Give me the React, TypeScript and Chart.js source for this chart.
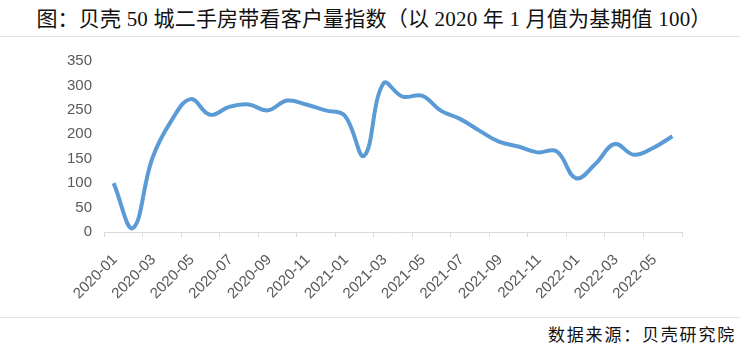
import React, { useEffect, useRef } from "react";
import { Chart, registerables } from "chart.js";

Chart.register(...registerables);

const months: string[] = [
  "2020-01", "2020-02", "2020-03", "2020-04", "2020-05", "2020-06",
  "2020-07", "2020-08", "2020-09", "2020-10", "2020-11", "2020-12",
  "2021-01", "2021-02", "2021-03", "2021-04", "2021-05", "2021-06",
  "2021-07", "2021-08", "2021-09", "2021-10", "2021-11", "2021-12",
  "2022-01", "2022-02", "2022-03", "2022-04", "2022-05", "2022-06",
];

const indexValues: number[] = [
  100, 8, 150, 228, 272, 240, 256, 261, 249, 269, 261, 249,
  238, 156, 304, 277, 279, 248, 231, 207, 185, 175, 163, 165,
  110, 139, 180, 158, 172, 196,
];

const yTicks: number[] = [0, 50, 100, 150, 200, 250, 300, 350];

const titleText = "图：贝壳 50 城二手房带看客户量指数（以 2020 年 1 月值为基期值 100）";
const sourceText = "数据来源：贝壳研究院";

export default function App() {
  const canvasRef = useRef<HTMLCanvasElement | null>(null);

  useEffect(() => {
    document.body.style.margin = "0";
    const canvas = canvasRef.current;
    if (!canvas) return;
    const points = indexValues.map((v, i) => ({ x: i + 0.5, y: v }));
    const chart = new Chart(canvas, {
      type: "line",
      data: {
        datasets: [
          {
            data: points,
            borderColor: "#5B9BD5",
            backgroundColor: "#5B9BD5",
            borderWidth: 4,
            pointRadius: 0,
            tension: 0.4,
            fill: false,
          },
        ],
      },
      options: {
        animation: false,
        responsive: false,
        maintainAspectRatio: false,
        layout: { padding: { top: 15, right: 58, left: 0, bottom: 0 } },
        plugins: {
          legend: { display: false },
          tooltip: { enabled: false },
          title: { display: false },
        },
        scales: {
          x: {
            type: "linear",
            min: 0,
            max: months.length,
            afterFit: (scale: any) => {
              scale.height = 83;
            },
            afterBuildTicks: (scale: any) => {
              const t = [];
              for (let v = 0; v <= months.length; v += 2) t.push({ value: v });
              scale.ticks = t;
            },
            ticks: {
              autoSkip: false,
              maxRotation: 45,
              minRotation: 45,
              color: "#595959",
              font: { family: "'Liberation Sans', Arial, sans-serif", size: 15 },
              padding: 14,
              labelOffset: 11,
              callback: (value: any) => {
                const v = Number(value);
                return v < months.length ? months[v] : "";
              },
            },
            grid: {
              display: true,
              drawOnChartArea: false,
              drawTicks: true,
              tickLength: 5,
              color: "#d9d9d9",
            },
            border: { display: true, color: "#d9d9d9", width: 1 },
          },
          y: {
            min: 0,
            max: 350,
            afterFit: (scale: any) => {
              scale.width = 104;
            },
            afterBuildTicks: (scale: any) => {
              scale.ticks = yTicks.map((v) => ({ value: v }));
            },
            ticks: {
              color: "#595959",
              font: { family: "'Liberation Sans', Arial, sans-serif", size: 15 },
              padding: 12,
            },
            grid: { display: false, drawTicks: false },
            border: { display: false },
          },
        },
      },
    });
    return () => chart.destroy();
  }, []);

  return (
    <div style={{ position: "relative", width: 740, height: 358, background: "#fff", overflow: "hidden" }}>
      <div
        style={{
          position: "absolute",
          top: 5,
          left: 0,
          width: 740,
          textAlign: "center",
          fontFamily: "'Liberation Serif', 'Noto Sans CJK SC', serif",
          fontSize: 21,
          lineHeight: "28px",
          letterSpacing: 0.2,
          color: "#111",
          whiteSpace: "nowrap",
          paddingLeft: 8,
          boxSizing: "border-box",
        }}
      >
        {titleText}
      </div>
      <div style={{ position: "absolute", top: 36, left: 0, width: 740, height: 1, background: "#e3e3e3" }} />
      <canvas ref={canvasRef} width={740} height={275} style={{ position: "absolute", top: 40, left: 0 }} />
      <div style={{ position: "absolute", top: 317, left: 0, width: 740, height: 1, background: "#e3e3e3" }} />
      <div
        style={{
          position: "absolute",
          top: 325,
          right: 4,
          fontFamily: "'Liberation Serif', 'Noto Sans CJK SC', serif",
          fontSize: 17,
          lineHeight: "22px",
          letterSpacing: 1.8,
          color: "#111",
          whiteSpace: "nowrap",
        }}
      >
        {sourceText}
      </div>
    </div>
  );
}
